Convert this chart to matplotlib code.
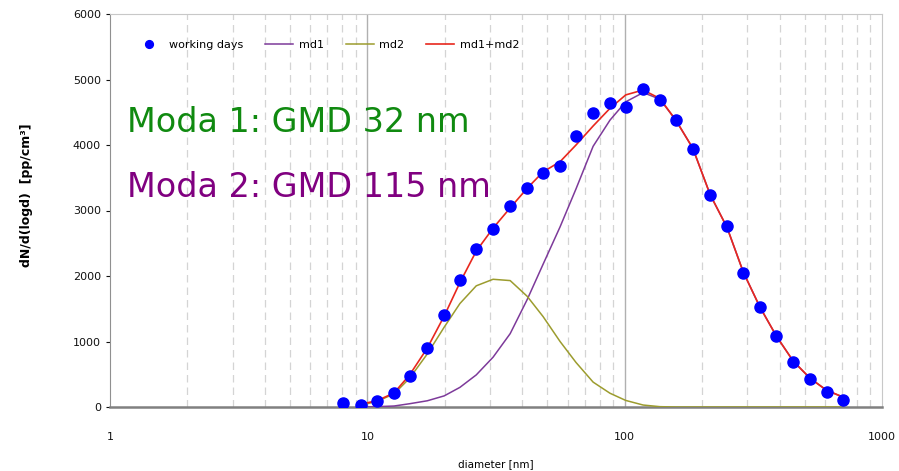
import matplotlib
matplotlib.use("Agg")
import matplotlib.pyplot as plt
from matplotlib.ticker import FixedLocator, NullFormatter

# particle size channels [nm]
diam = [8.05, 9.45, 10.9, 12.7, 14.6, 17.1, 19.9, 22.9, 26.5, 30.8, 35.9,
        41.8, 48.2, 56.1, 64.7, 75.4, 87.7, 101, 118, 137, 158, 184,
        215, 250, 289, 335, 389, 452, 525, 609, 707]

# measured dN/dlogd, working days
working_days = [56, 26, 92, 218, 478, 905, 1400, 1935, 2413, 2718, 3070,
                3349, 3578, 3685, 4138, 4494, 4647, 4586, 4856, 4690, 4380,
                3940, 3237, 2768, 2041, 1522, 1084, 682, 427, 229, 102]

# fitted modes (start at the second channel)
fit_diam = diam[1:]
md1 = [0, 5, 15, 50, 95, 170, 300, 490, 760, 1120, 1640, 2180, 2750, 3330,
       3980, 4380, 4660, 4800, 4700, 4380, 3950, 3240, 2740, 2060, 1530,
       1080, 700, 440, 255, 150]
md2 = [30, 85, 200, 440, 810, 1220, 1580, 1850, 1950, 1930, 1690, 1380,
       1000, 680, 380, 210, 100, 30, 5, 0, 0, 0, 0, 0, 0, 0, 0, 0, 0, 0]
md_sum = [45, 95, 215, 490, 900, 1390, 1900, 2380, 2730, 3040, 3340, 3590,
          3745, 4000, 4290, 4560, 4765, 4840, 4710, 4380, 3950, 3240, 2740,
          2060, 1530, 1080, 700, 440, 255, 150]

fig = plt.figure(figsize=(8.99, 4.71), dpi=100)
ax = fig.add_axes([110 / 899, 1 - 407 / 471, 772 / 899, 393 / 471])

ax.plot(fit_diam, md1, color='#7d3a9a', lw=1.1, label='md1', zorder=3)
ax.plot(fit_diam, md2, color='#9c9c2e', lw=1.1, label='md2', zorder=3)
ax.plot(fit_diam, md_sum, color='#e8281e', lw=1.2, label='md1+md2', zorder=4)
ax.plot(diam, working_days, 'o', color='#0000ff', ms=8, mec='#0000ff',
        label='working days', zorder=5)

ax.set_xscale('log')
ax.set_xlim(1, 1000)
ax.set_ylim(0, 6000)
ax.set_yticks(range(0, 7000, 1000))
ax.set_xticks([1, 10, 100, 1000])
ax.set_xticklabels(['1', '10', '100', '1000'])
ax.xaxis.set_minor_locator(FixedLocator([m * 10 ** e for e in range(3) for m in range(2, 10)]))
ax.xaxis.set_minor_formatter(NullFormatter())

# grid: dashed minor, solid major decades
ax.grid(which='minor', axis='x', color='#d4d4d4', ls=(0, (6, 4)), lw=0.9)
for v in [10, 100]:
    ax.axvline(v, color='#b0b0b0', lw=1.0, zorder=1)

ax.tick_params(axis='x', which='both', length=0, labelsize=8, pad=18, colors='#111111')
ax.tick_params(axis='y', length=3, labelsize=8, colors='#111111', width=0.8)
for s in ['top', 'right']:
    ax.spines[s].set_color('#c8c8c8')
ax.spines['left'].set_color('#909090')
ax.spines['bottom'].set_color('#808080')
ax.spines['bottom'].set_linewidth(1.8)

ax.set_xlabel('diameter [nm]', fontsize=7.5, labelpad=12)
ax.set_ylabel('dN/d(logd)  [pp/cm³]', fontsize=9, fontweight='bold', labelpad=29)
ax.yaxis.label.set_y(0.54)

handles, labels = ax.get_legend_handles_labels()
order = [3, 0, 1, 2]
ax.legend([handles[i] for i in order], [labels[i] for i in order],
          loc='center left', bbox_to_anchor=(0.02, 0.921), ncol=4,
          frameon=False, fontsize=8, handlelength=2.5, columnspacing=2.0,
          handletextpad=0.5, markerscale=0.7)

fig.text(127 / 899, 1 - 132 / 471, 'Moda 1: GMD 32 nm', color='#108a10',
         fontsize=24, va='baseline', ha='left')
fig.text(127 / 899, 1 - 197 / 471, 'Moda 2: GMD 115 nm', color='#800080',
         fontsize=24, va='baseline', ha='left')

fig.savefig('out.png', dpi=100)
